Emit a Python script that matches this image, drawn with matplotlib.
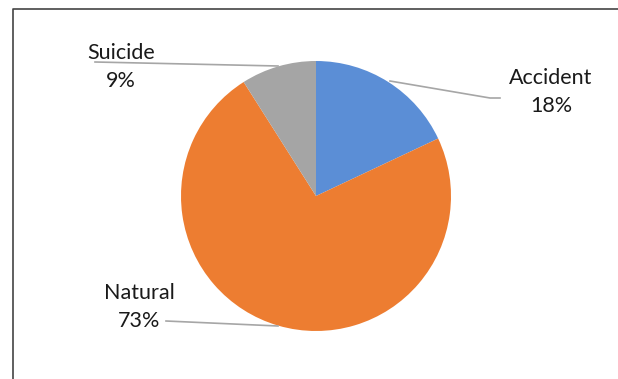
import matplotlib.pyplot as plt

# causes of death share
labels = ["Accident", "Natural", "Suicide"]
values = [18, 73, 9]
colors = ["#5B8ED6", "#ED7D31", "#A5A5A5"]

plt.rcParams['font.family'] = ['Lato', 'DejaVu Sans']

W, H = 618, 379
fig = plt.figure(figsize=(W / 100, H / 100), dpi=100)
ax = fig.add_axes([0, 0, 1, 1])

# pie in pixel coordinates (y flipped)
cx, cy, r = 316, H - 196, 135
ax.pie(values, colors=colors, startangle=90, counterclock=False,
       center=(cx, cy), radius=r, frame=True)
ax.set_xlim(0, W)
ax.set_ylim(0, H)
ax.axis('off')

# chart border (left and top only visible)
ax.plot([12.5, 12.5, W], [0, H - 8.5, H - 8.5], color='#444444', lw=1.2,
        solid_capstyle='butt')

# data labels with leader lines
lbl = {"Accident": (551, 92), "Natural": (139, 307), "Suicide": (121, 67)}
leaders = {
    "Accident": [(390, 81), (490, 98), (500, 98)],
    "Natural": [(166, 321), (278, 326)],
    "Suicide": [(95, 62), (278, 66)],
}
for name, v in zip(labels, values):
    x, y = lbl[name]
    ax.text(x, H - y, f"{name}\n{v}%", ha='center', va='center',
            fontsize=15.5, linespacing=1.5, color='#1a1a1a')
    pts = leaders[name]
    ax.plot([p[0] for p in pts], [H - p[1] for p in pts], color='#A6A6A6', lw=1.2)

fig.savefig("out.png", dpi=100)
